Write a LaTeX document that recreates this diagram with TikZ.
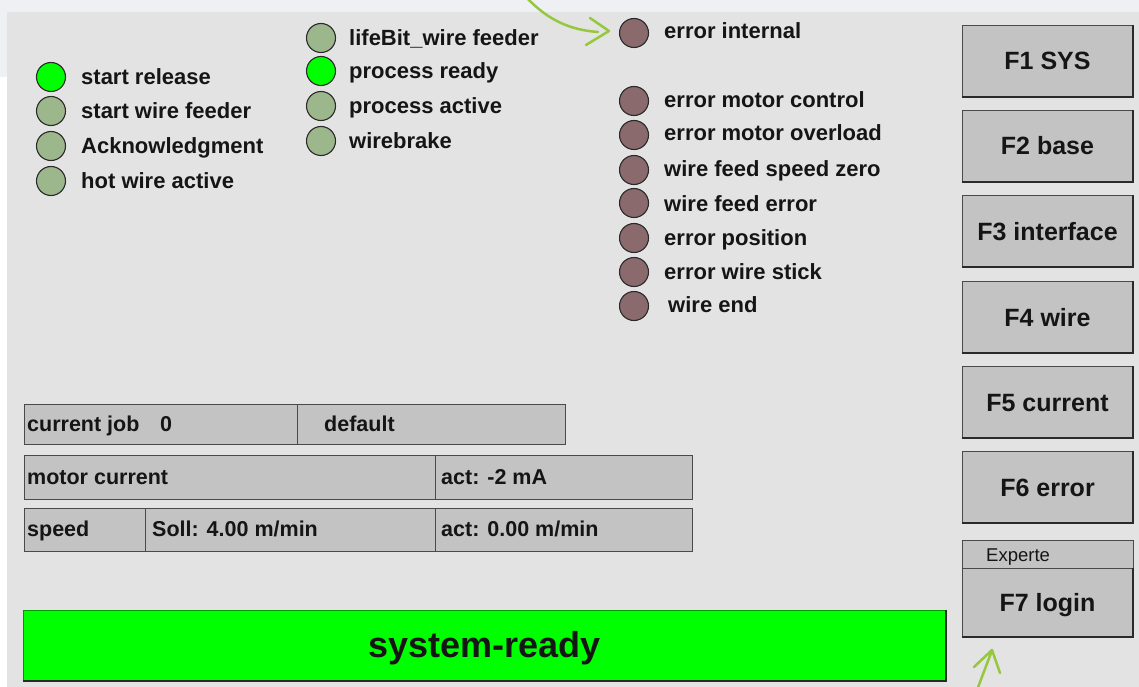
\documentclass[tikz,border=0pt]{standalone}
\usepackage{fontspec}
\setmainfont{Liberation Sans}
\definecolor{outerbg}{HTML}{EEF0F4}
\definecolor{panel}{HTML}{E3E3E3}
\definecolor{cellfill}{HTML}{C3C3C3}
\definecolor{edge}{HTML}{4A4A4A}
\definecolor{darkedge}{HTML}{2A2A2A}
\definecolor{ledon}{HTML}{00FF00}
\definecolor{ledoff}{HTML}{9DB78D}
\definecolor{lederr}{HTML}{8A6A6D}
\definecolor{arrowc}{HTML}{96C83E}
\definecolor{txt}{HTML}{151515}
\begin{document}
\begin{tikzpicture}[x=1pt,y=-1pt,
  led/.style={circle,draw=darkedge,line width=1.1pt,minimum size=29pt,inner sep=0pt},
  lbl/.style={anchor=base west,inner sep=0pt,text=txt,font=\fontsize{22}{26}\selectfont\bfseries},
  cell/.style={draw=edge,line width=1.2pt,fill=cellfill,inner sep=0pt,anchor=north west},
  celltxt/.style={anchor=base west,inner sep=0pt,text=txt,font=\fontsize{21.5}{26}\selectfont\bfseries},
  btn/.style={fill=cellfill,draw=edge,line width=0.8pt,minimum width=171pt,inner sep=0pt,
    text=txt,font=\fontsize{25}{30}\selectfont\bfseries,text height=18pt,text depth=0pt},
  shade/.style={draw=darkedge,line width=2pt},
  hint/.style={draw=arrowc,line width=2.5pt,line cap=round,line join=round}]
\useasboundingbox (0,0) rectangle (1139,687);
\fill[outerbg] (0,0) rectangle (1139,687);
\fill[white] (0,77) rectangle (7,687);
\fill[panel] (7,12) rectangle (1139,687);

% left LEDs
\foreach \y/\c/\t/\n in {77/ledon/start release/a1,111/ledoff/start wire feeder/a2,146/ledoff/Acknowledgment/a3,181/ledoff/hot wire active/a4}{
  \node[led,fill=\c] (l\n) at (51,\y) {};
  \node[lbl] (t\n) at (81,\y+8) {\t};
}
% middle LEDs
\foreach \y/\c/\t/\n in {38/ledoff/lifeBit\_wire feeder/b1,71/ledon/process ready/b2,106/ledoff/process active/b3,141/ledoff/wirebrake/b4}{
  \node[led,fill=\c] (l\n) at (321,\y) {};
  \node[lbl] (t\n) at (349,\y+8) {\t};
}
% right LEDs
\foreach \y/\ty/\tx/\t/\n in {33/31/664/error internal/c1,101/100/664/error motor control/c2,135/133/664/error motor overload/c3,170/168/664/wire feed speed zero/c4,203/203/664/wire feed error/c5,238/237/664/error position/c6,272/271/664/error wire stick/c7,306/304/668/wire end/c8}{
  \node[led,fill=lederr] (l\n) at (634,\y) {};
  \node[lbl] (t\n) at (\tx,\ty+8) {\t};
}

% table
\node[cell,minimum width=273pt,minimum height=40pt] (r1a) at (24,404) {};
\node[cell,minimum width=268pt,minimum height=40pt] (r1b) at (297,404) {};
\node[celltxt] (r1at) at (27,431) {current job};
\node[celltxt] (r1an) at (160,431) {0};
\node[celltxt] (r1bt) at (324,431) {default};
\node[cell,minimum width=411pt,minimum height=44pt] (r2a) at (24,455) {};
\node[cell,minimum width=257pt,minimum height=44pt] (r2b) at (435,455) {};
\node[celltxt] (r2at) at (27,484) {motor current};
\node[celltxt] (r2bt) at (441,484) {act: -2 mA};
\node[cell,minimum width=121pt,minimum height=43pt] (r3a) at (24,508) {};
\node[cell,minimum width=290pt,minimum height=43pt] (r3b) at (145,508) {};
\node[cell,minimum width=257pt,minimum height=43pt] (r3c) at (435,508) {};
\node[celltxt] (r3at) at (27,536) {speed};
\node[celltxt] (r3bt) at (152,536) {Soll: 4.00 m/min};
\node[celltxt] (r3ct) at (441,536) {act: 0.00 m/min};

% status bar
\node[fill=ledon,draw=ledon!60!black,line width=0.6pt,minimum width=923pt,minimum height=71pt,inner sep=0pt] (bar) at (484.5,645.5) {};
\draw[shade] (bar.south west) -- (bar.south east) -- (bar.north east);
\node[anchor=base,inner sep=0pt,text=txt,font=\fontsize{36}{42}\selectfont\bfseries] (bart) at (484.5,657) {system-ready};

% buttons
\foreach \y/\t/\n in {61/F1 SYS/f1,146/F2 base/f2,231/F3 interface/f3,317/F4 wire/f4,402/F5 current/f5,487/F6 error/f6}{
  \node[btn,minimum height=72pt] (\n) at (1047.5,\y) {\t};
  \draw[shade] (\n.south west) -- (\n.south east) -- (\n.north east);
}
\node[btn,minimum height=28pt,text height=0pt] (exp) at (1047.5,554) {};
\node[anchor=base west,inner sep=0pt,text=txt,font=\fontsize{18.5}{22}\selectfont] (expt) at (986,561) {Experte};
\node[btn,minimum height=69pt] (f7) at (1047.5,602.5) {F7 login};
\draw[shade] (f7.south west) -- (f7.south east) -- (f7.north east);

% green hint arrows
\coordinate (h1s) at (527,-2);
\coordinate (h1e) at (598,32);
\coordinate (h1a) at (590,18);
\coordinate (h1t) at (609,31);
\coordinate (h1b) at (586,45);
\draw[hint] (h1s) .. controls (548,20) and (570,30) .. (h1e);
\draw[hint] (h1a) -- (h1t) -- (h1b);
\coordinate (h2s) at (977,690);
\coordinate (h2e) at (991,653);
\coordinate (h2a) at (974,667);
\coordinate (h2t) at (992,650);
\coordinate (h2b) at (1000,673);
\draw[hint] (h2s) -- (h2e);
\draw[hint] (h2a) -- (h2t) -- (h2b);
\end{tikzpicture}
\end{document}
